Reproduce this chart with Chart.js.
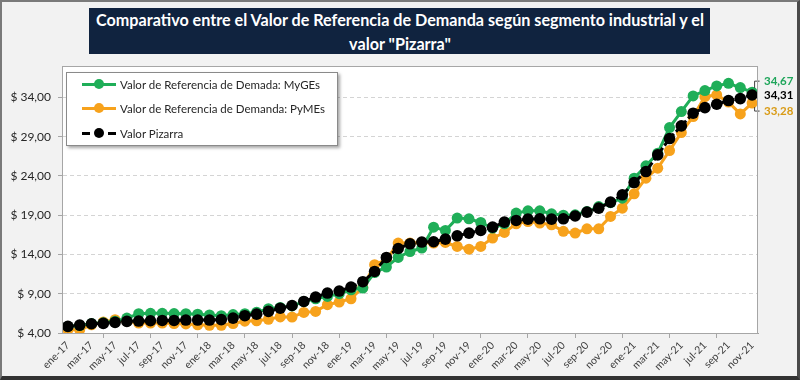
<!DOCTYPE html>
<html>
<head>
<meta charset="utf-8">
<script src="https://cdn.jsdelivr.net/npm/chart.js@4.4.1/dist/chart.umd.min.js"></script>
<style>
  html, body { margin: 0; padding: 0; background: #f2f2f2; }
  #wrap { position: relative; width: 800px; height: 380px; overflow: hidden; background: #f2f2f2; }
  #chart { position: absolute; left: 0; top: 0; }
  #frame {
    position: absolute; left: 0; top: 0; width: 800px; height: 380px; box-sizing: border-box;
    border-top: 2px solid #7a7a7a; border-left: 2px solid #7a7a7a;
    border-right: 3px solid #4a4a4a; border-bottom: 4px solid #333;
    pointer-events: none;
  }
  #title {
    position: absolute; left: 89px; top: 8px; width: 621px; height: 46px;
    background: #10233f; color: #fff;
    font-family: Lato, sans-serif; font-weight: bold; font-size: 17.5px; line-height: 24px;
    overflow: hidden;
  }
  #title .tl { position: absolute; left: 50%; white-space: nowrap; transform-origin: center; }
  #legend {
    position: absolute; left: 66px; top: 72px; width: 272px; height: 74px; box-sizing: border-box;
    background: #fff; border: 1px solid #8a8a8a; box-shadow: 2px 2px 3px rgba(0,0,0,0.35);
    font-family: Lato, sans-serif; font-size: 11.5px; color: #262626;
  }
  .item { position: absolute; left: 15px; height: 16px; display: flex; align-items: center; }
  .sym { position: relative; width: 34px; height: 10px; margin-right: 4px; }
  .sym .ln { position: absolute; left: 0; top: 3.5px; width: 34px; height: 3px; }
  .sym .dot { position: absolute; left: 12px; top: 0; width: 10px; height: 10px; border-radius: 50%; }
</style>
</head>
<body>
<div id="wrap">
  <canvas id="chart" width="800" height="380"></canvas>
  <div id="title"><span class="tl" style="top:0">Comparativo entre el Valor de Referencia de Demanda según segmento industrial y el</span><span class="tl" style="top:24px">valor "Pizarra"</span></div>
  <div id="legend"></div>
  <div id="frame"></div>
</div>
<script>
const categories = [
  "ene-17","feb-17","mar-17","abr-17","may-17","jun-17","jul-17","ago-17","sep-17","oct-17","nov-17","dic-17",
  "ene-18","feb-18","mar-18","abr-18","may-18","jun-18","jul-18","ago-18","sep-18","oct-18","nov-18","dic-18",
  "ene-19","feb-19","mar-19","abr-19","may-19","jun-19","jul-19","ago-19","sep-19","oct-19","nov-19","dic-19",
  "ene-20","feb-20","mar-20","abr-20","may-20","jun-20","jul-20","ago-20","sep-20","oct-20","nov-20","dic-20",
  "ene-21","feb-21","mar-21","abr-21","may-21","jun-21","jul-21","ago-21","sep-21","oct-21","nov-21"
];

const myges = [
  4.84, 4.95, 5.2, 5.3, 5.5, 5.9, 6.45, 6.5, 6.5, 6.48, 6.45, 6.4,
  6.3, 6.2, 6.35, 6.45, 6.65, 7.1, 7.25, 7.45, 8.0, 8.36, 8.66, 9.0,
  9.5, 9.72, 11.7, 12.4, 13.62, 14.38, 14.81, 17.48, 17.06, 18.63, 18.54, 18.07,
  17.36, 17.9, 19.27, 19.56, 19.56, 19.18, 19.0, 19.05, 19.47, 20.1, 20.6, 21.17,
  23.72, 25.29, 26.9, 30.16, 32.2, 34.19, 34.87, 35.46, 35.8, 35.25, 34.67
];

const pymes = [
  4.42, 4.42, 5.05, 5.4, 5.7, 5.5, 5.27, 5.27, 5.27, 5.2, 5.15, 5.05,
  4.98, 4.98, 5.2, 5.5, 5.56, 5.75, 6.05, 6.03, 6.62, 6.75, 7.6, 7.94,
  8.36, 9.8, 12.7, 13.33, 15.45, 15.45, 15.53, 15.45, 15.53, 15.02, 14.68, 15.02,
  16.09, 16.8, 17.9, 18.2, 18.0, 17.78, 16.95, 16.72, 17.27, 17.27, 18.84, 19.9,
  21.72, 23.72, 24.99, 27.23, 29.52, 31.56, 34.1, 34.32, 33.4, 31.9, 33.28
];

const pizarra = [
  4.84, 5.0, 5.18, 5.22, 5.35, 5.48, 5.52, 5.56, 5.6, 5.6, 5.65, 5.65,
  5.65, 5.7, 5.9, 6.2, 6.4, 6.75, 7.15, 7.5, 8.02, 8.58, 9.09, 9.34,
  9.85, 10.53, 11.84, 13.62, 14.76, 15.36, 15.58, 15.62, 15.96, 16.38, 16.72, 17.06,
  17.48, 18.12, 18.33, 18.5, 18.54, 18.5, 18.54, 18.9, 19.39, 19.9, 20.67, 21.6,
  23.16, 24.56, 26.68, 28.76, 30.37, 31.99, 32.7, 33.13, 33.6, 33.85, 34.31
];

const yTicks = [4, 9, 14, 19, 24, 29, 34];

const seriesNames = [
  "Valor de Referencia de Demada: MyGEs",
  "Valor de Referencia de Demanda: PyMEs",
  "Valor Pizarra"
];

const GREEN = "#1fae58";
const ORANGE = "#f7a21c";
const BLACK = "#000000";

function fmt(v) {
  return v.toFixed(2).replace(".", ",");
}

// squeeze the title a little so it reads like the narrow original font
const titleLines = document.querySelectorAll("#title .tl");
const squeeze = Math.min(1, 608 / titleLines[0].offsetWidth);
titleLines.forEach(function (el) {
  el.style.transform = "translateX(-50%) scaleX(" + squeeze + ")";
});

// html legend inside the plot area
const legendEl = document.getElementById("legend");
[
  { name: seriesNames[0], color: GREEN, dashed: false, top: 3 },
  { name: seriesNames[1], color: ORANGE, dashed: false, top: 27 },
  { name: seriesNames[2], color: BLACK, dashed: true, top: 52 }
].forEach(function (s) {
  const lineBg = s.dashed
    ? "linear-gradient(to right, #000 0 8px, transparent 8px 26px, #000 26px 34px)"
    : s.color;
  const div = document.createElement("div");
  div.className = "item";
  div.style.top = s.top + "px";
  div.innerHTML =
    '<span class="sym"><span class="ln" style="background:' + lineBg + '"></span>' +
    '<span class="dot" style="background:' + s.color + '"></span></span>' +
    "<span>" + s.name + "</span>";
  legendEl.appendChild(div);
});

// white plot area with a thin border
const plotArea = {
  id: "plotArea",
  beforeDraw(chart) {
    const a = chart.chartArea;
    const ctx = chart.ctx;
    ctx.save();
    ctx.fillStyle = "#ffffff";
    ctx.fillRect(a.left, a.top, a.right - a.left, a.bottom - a.top);
    ctx.restore();
  },
  afterDraw(chart) {
    const a = chart.chartArea;
    const ctx = chart.ctx;
    ctx.save();
    ctx.strokeStyle = "#a6a6a6";
    ctx.lineWidth = 1;
    ctx.strokeRect(a.left + 0.5, a.top + 0.5, a.right - a.left - 1, a.bottom - a.top);
    ctx.restore();
  }
};

// last-value labels with leader lines on the right
const endLabels = {
  id: "endLabels",
  afterDatasetsDraw(chart) {
    const ctx = chart.ctx;
    const offsets = { 0: -11, 1: 8, 2: 0 };
    const colors = { 0: "#1ea55a", 1: "#d99b16", 2: "#000000" };
    ctx.save();
    ctx.font = "bold 11.5px Lato, sans-serif";
    ctx.textBaseline = "middle";
    chart.data.datasets.forEach(function (ds, i) {
      const meta = chart.getDatasetMeta(i);
      const pt = meta.data[meta.data.length - 1];
      const ly = pt.y + offsets[i];
      const lx = chart.chartArea.right + 6;
      if (offsets[i] !== 0) {
        ctx.strokeStyle = "#404040";
        ctx.lineWidth = 1;
        ctx.beginPath();
        const px = pt.x + 2.5;
        ctx.moveTo(px, pt.y + (offsets[i] < 0 ? -4 : 4));
        ctx.lineTo(px, ly);
        ctx.lineTo(px + 5, ly);
        ctx.stroke();
      }
      ctx.fillStyle = colors[i];
      ctx.fillText(fmt(ds.data[ds.data.length - 1]), lx, ly);
    });
    ctx.restore();
  }
};

const ctx = document.getElementById("chart").getContext("2d");

const chart = new Chart(ctx, {
  type: "line",
  data: {
    labels: categories,
    datasets: [
      {
        label: seriesNames[0],
        data: myges,
        borderColor: GREEN,
        backgroundColor: GREEN,
        borderWidth: 3,
        pointRadius: 5.5,
        pointBorderWidth: 0,
        tension: 0,
        order: 1
      },
      {
        label: seriesNames[1],
        data: pymes,
        borderColor: ORANGE,
        backgroundColor: ORANGE,
        borderWidth: 3,
        pointRadius: 5.5,
        pointBorderWidth: 0,
        tension: 0,
        order: 2
      },
      {
        label: seriesNames[2],
        data: pizarra,
        borderColor: BLACK,
        backgroundColor: BLACK,
        borderWidth: 3,
        borderDash: [6, 3],
        pointRadius: 5.8,
        pointBorderWidth: 0,
        tension: 0,
        order: 0
      }
    ]
  },
  options: {
    responsive: false,
    animation: false,
    devicePixelRatio: 1,
    layout: {
      padding: { top: 66, right: 42, left: 0, bottom: 0 }
    },
    scales: {
      x: {
        offset: true,
        afterFit: function (scale) { scale.height = 47; },
        grid: {
          drawOnChartArea: false,
          offset: true,
          tickLength: 5,
          color: function (c) { return c.index % 2 === 0 ? "#a6a6a6" : "rgba(0,0,0,0)"; }
        },
        border: { color: "#a0a0a0" },
        ticks: {
          autoSkip: false,
          maxRotation: 45,
          minRotation: 45,
          padding: 1,
          color: "#404040",
          font: { family: "Lato, sans-serif", size: 10.5 },
          callback: function (value, index) {
            return index % 2 === 0 ? categories[index] : null;
          }
        }
      },
      y: {
        min: 4,
        max: 38,
        afterFit: function (scale) { scale.width = 62; },
        afterBuildTicks: function (scale) {
          scale.ticks = yTicks.map(function (v) { return { value: v }; });
        },
        grid: {
          color: "#d4d4d4",
          tickLength: 4,
          tickColor: "#a6a6a6",
          tickBorderDash: []
        },
        border: { display: true, color: "#a6a6a6", dash: [4, 3] },
        ticks: {
          padding: 7,
          color: "#262626",
          font: { family: "Lato, sans-serif", size: 12 },
          callback: function (value) { return "$ " + fmt(value); }
        }
      }
    },
    plugins: {
      legend: { display: false },
      tooltip: { enabled: false }
    }
  },
  plugins: [plotArea, endLabels]
});
</script>
</body>
</html>
